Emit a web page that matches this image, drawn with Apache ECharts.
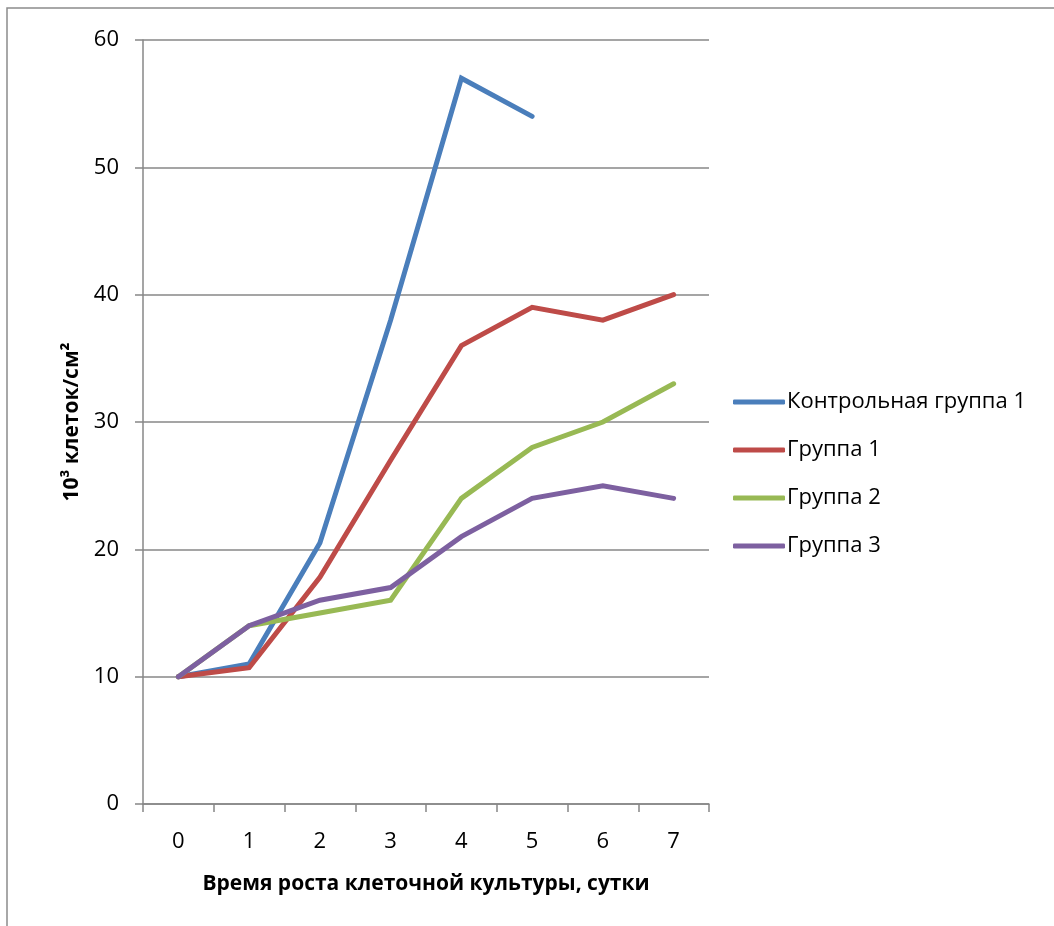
<!DOCTYPE html>
<html>
<head>
<meta charset="utf-8">
<script src="https://cdn.jsdelivr.net/npm/echarts@6/dist/echarts.min.js"></script>
<style>
  html, body { margin: 0; padding: 0; background: #fff; }
  #chart { width: 1054px; height: 926px; }
</style>
</head>
<body>
<div id="chart"></div>
<script>
// Days of cell culture growth
const days = ['0', '1', '2', '3', '4', '5', '6', '7'];

// Cell density, 10^3 cells per cm^2
const control1 = [10, 11, 20.5, 38, 57, 54, null, null];
const group1 = [10, 10.7, 17.8, 27, 36, 39, 38, 40];
const group2 = [10, 14, 15, 16, 24, 28, 30, 33];
const group3 = [10, 14, 16, 17, 21, 24, 25, 24];

const seriesNames = ['Контрольная группа 1', 'Группа 1', 'Группа 2', 'Группа 3'];
const seriesColors = ['#4A7EBB', '#BE4B48', '#98B954', '#7D60A0'];
const seriesData = [control1, group1, group2, group3];

const FONT = '"Open Sans", "Noto Sans", sans-serif';
const AXIS_GRAY = '#878787';

const chart = echarts.init(document.getElementById('chart'), null, { renderer: 'canvas' });

chart.setOption({
  animation: false,
  backgroundColor: '#fff',
  textStyle: { fontFamily: FONT },
  graphic: [{
    type: 'rect',
    shape: { x: 7, y: 8, width: 1100, height: 1000 },
    style: { fill: 'none', stroke: '#8c8c8c', lineWidth: 1.5 },
    silent: true
  }],
  grid: { left: 143, right: 345, top: 40, bottom: 122 },
  legend: {
    orient: 'vertical',
    left: 728,
    top: 385,
    itemWidth: 52,
    itemHeight: 5,
    itemGap: 24,
    icon: 'roundRect',
    textStyle: { fontFamily: FONT, fontSize: 22, color: '#000', lineHeight: 24, padding: [0, 0, 0, -3] },
    data: seriesNames
  },
  xAxis: {
    type: 'category',
    data: days,
    boundaryGap: true,
    name: 'Время роста клеточной культуры, сутки',
    nameLocation: 'middle',
    nameGap: 70,
    nameTextStyle: { fontFamily: FONT, fontSize: 21, fontWeight: 'bold', color: '#000' },
    axisLine: { lineStyle: { color: AXIS_GRAY, width: 1.5 } },
    axisTick: { show: true, length: 8, alignWithLabel: false, lineStyle: { color: AXIS_GRAY, width: 1.5 } },
    axisLabel: { fontFamily: FONT, fontSize: 22, color: '#000', margin: 27 },
    splitLine: { show: false }
  },
  yAxis: {
    type: 'value',
    min: 0,
    max: 60,
    interval: 10,
    name: '10³ клеток/см²',
    nameLocation: 'middle',
    nameGap: 60,
    nameRotate: 90,
    nameTextStyle: { fontFamily: FONT, fontSize: 21, fontWeight: 'bold', color: '#000' },
    axisLine: { show: true, lineStyle: { color: AXIS_GRAY, width: 1.5 } },
    axisTick: { show: true, length: 8, lineStyle: { color: AXIS_GRAY, width: 1.5 } },
    axisLabel: { fontFamily: FONT, fontSize: 22, color: '#000', margin: 24 },
    splitLine: { show: true, lineStyle: { color: AXIS_GRAY, width: 1.5 } }
  },
  series: seriesNames.map((name, i) => ({
    name: name,
    type: 'line',
    data: seriesData[i],
    color: seriesColors[i],
    symbol: 'none',
    connectNulls: false,
    lineStyle: { width: 5, color: seriesColors[i], cap: 'round', join: 'miter' }
  }))
});
</script>
</body>
</html>
